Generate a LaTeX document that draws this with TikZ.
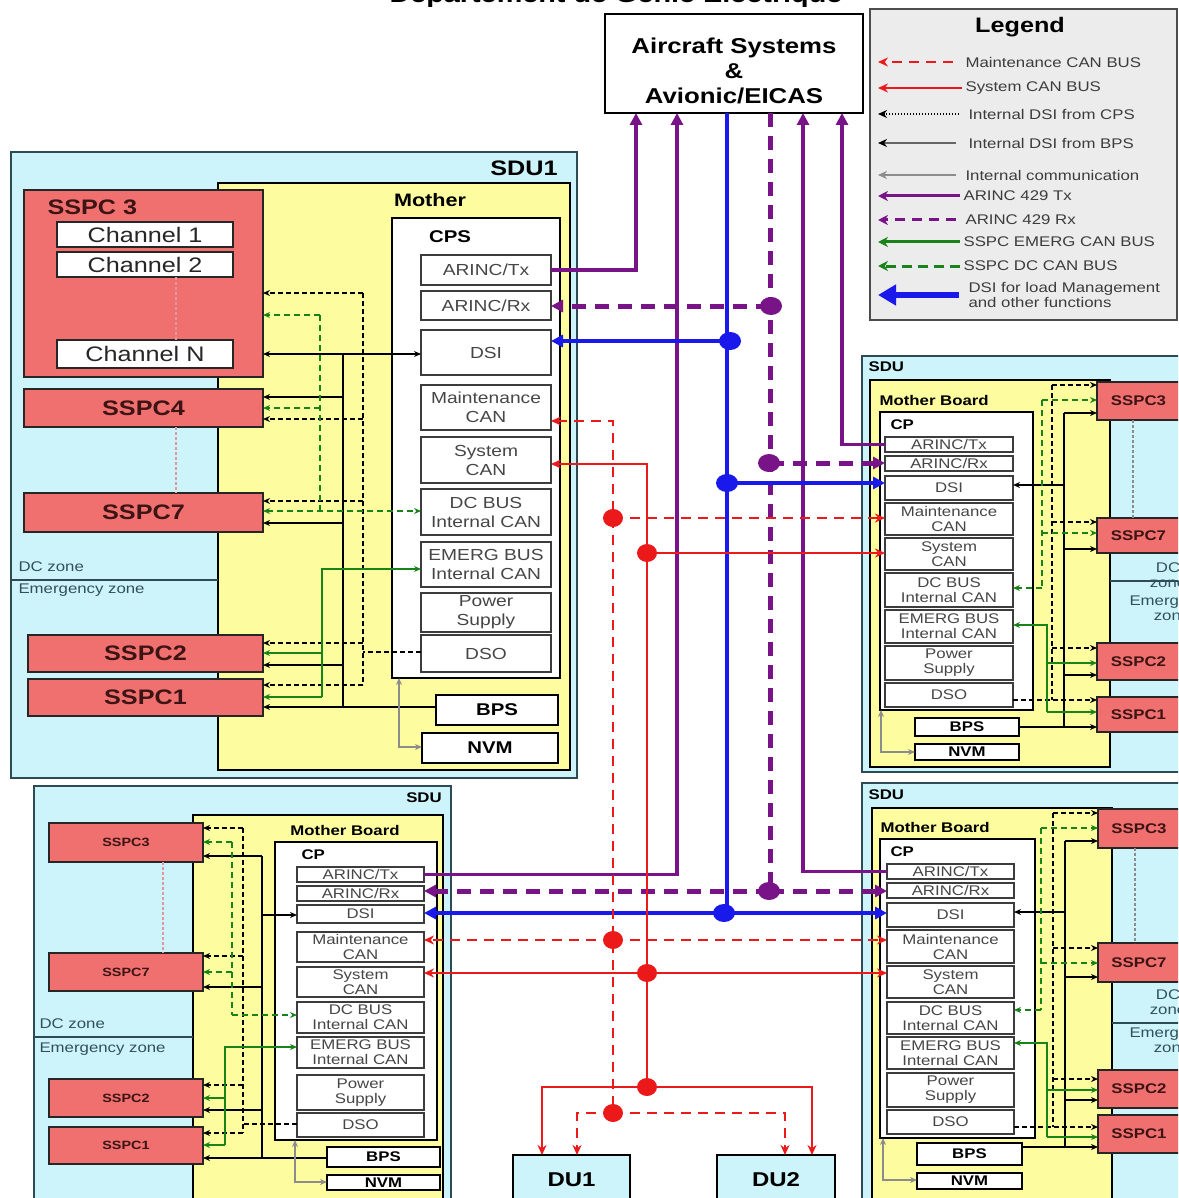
\documentclass[tikz,border=0pt]{standalone}
\usepackage{fontspec}
\setmainfont[FakeStretch=1.2]{Liberation Sans}
\usetikzlibrary{arrows.meta}
\definecolor{sducyan}{RGB}{204,244,250}
\definecolor{sdub}{RGB}{45,75,85}
\definecolor{mby}{RGB}{253,253,160}
\definecolor{sspcr}{RGB}{240,112,112}
\definecolor{sspct}{RGB}{60,20,20}
\definecolor{subt}{RGB}{70,70,70}
\definecolor{subb}{RGB}{60,60,60}
\definecolor{prp}{RGB}{120,20,135}
\definecolor{blu}{RGB}{25,25,235}
\definecolor{rd}{RGB}{235,25,25}
\definecolor{grn}{RGB}{25,130,25}
\definecolor{gry}{RGB}{140,140,140}
\definecolor{leggray}{RGB}{236,236,236}
\definecolor{legtext}{RGB}{60,60,60}
\definecolor{zonet}{RGB}{50,80,90}
\definecolor{pinkd}{RGB}{225,150,160}
\definecolor{ducyan}{RGB}{204,244,250}
\newcommand\fsz[2]{\fontsize{#1}{#2}\selectfont}
\newcommand\bx[7]{\node[#1,inner sep=0pt,outer sep=0pt,minimum width={#5-#3},minimum height={#6-#4}] (#2) at ({(#3+#5)/2},{(#4+#6)/2}) {#7};}
\tikzset{
 sa/.tip={Stealth[length=7pt,width=6pt]},
 ra/.tip={Stealth[length=10pt,width=9pt]},
 ta/.tip={Triangle[length=12pt,width=12pt]},
 sdu/.style={draw=sdub,fill=sducyan,line width=1.5pt},
 mb/.style={draw=black,fill=mby,line width=2pt},
 cpb/.style={draw=black,fill=white,line width=1.5pt},
 subL/.style={draw=subb,fill=white,line width=1.5pt,text=subt,align=center,font=\fsz{16}{19}},
 subS/.style={draw=subb,fill=white,line width=1.3pt,text=subt,align=center,font=\fsz{14}{15}},
 bpL/.style={draw=black,fill=white,line width=2pt,font=\bfseries\fsz{17}{19}},
 bpS/.style={draw=black,fill=white,line width=1.8pt,font=\bfseries\fsz{14}{15}},
 sspcL/.style={draw=black!85,fill=sspcr,line width=2pt,text=sspct,font=\bfseries\fsz{21}{24}},
 sspcS/.style={draw=black!85,fill=sspcr,line width=1.8pt,text=sspct,font=\bfseries\fsz{14}{16}},
 sspcB/.style={draw=black!85,fill=sspcr,line width=1.8pt,text=sspct,font=\bfseries\fsz{12}{14}},
 chan/.style={draw=black!85,fill=white,line width=2pt,font=\fsz{21}{24},text=black!85},
 lbl/.style={font=\bfseries\fsz{14}{16}},
 zone/.style={text=zonet,font=\fsz{14}{15},align=center},
 air/.style={draw=black,fill=white,line width=2.5pt},
 airt/.style={align=center,font=\bfseries\fsz{21.5}{25}},
 du/.style={draw=black,fill=ducyan,line width=2pt,font=\bfseries\fsz{20}{22}},
 legt/.style={text=legtext,font=\fsz{14}{15},anchor=west,align=left},
 tx/.style={prp,line width=3.5pt},
 rx/.style={prp,line width=5pt,dash pattern=on 14pt off 9pt},
 dsi/.style={blu,line width=4.5pt},
 mcan/.style={rd,line width=2.8pt,dash pattern=on 10pt off 7pt},
 scan/.style={rd,line width=2.8pt},
 bk/.style={black,line width=1.5pt},
 bkd/.style={black,line width=1.6pt,dash pattern=on 5pt off 3pt},
 gd/.style={grn,line width=1.8pt,dash pattern=on 6pt off 4pt},
 gs/.style={grn,line width=1.8pt},
 gr/.style={gry,line width=1.5pt},
 pd/.style={pinkd,line width=1.5pt,dash pattern=on 3pt off 2pt},
}
\begin{document}
\begin{tikzpicture}[x=1pt,y=-1pt]
\useasboundingbox (0,0) rectangle (1178,1198);
\clip (0,0) rectangle (1178,1198);
\fill[white] (0,0) rectangle (1178,1198);

% title (cut off at top)
\node[font=\bfseries\fsz{24}{26},anchor=base] (title) at (616,3) {Département de Génie Électrique};

% aircraft systems
\bx{air}{air}{605}{14}{863}{113}{}
\node[airt] (airtxt) at (734,71) {Aircraft Systems\\\&\\Avionic/EICAS};

% legend
\bx{draw=black!70,fill=leggray,line width=1.5pt}{leg}{870}{9}{1177}{320}{}
\node[font=\bfseries\fsz{21}{24}] (legl) at (1020,27) {Legend};
\node[legt] (lg1) at (962,62) {Maintenance CAN BUS};
\node[legt] (lg2) at (962,88) {System CAN BUS};
\node[legt] (lg3) at (965,114) {Internal DSI from CPS};
\node[legt] (lg4) at (965,143) {Internal DSI from BPS};
\node[legt] (lg5) at (962,175) {Internal communication};
\node[legt] (lg6) at (960,196) {ARINC 429 Tx};
\node[legt] (lg7) at (962,220) {ARINC 429 Rx};
\node[legt] (lg8) at (960,242) {SSPC EMERG CAN BUS};
\node[legt] (lg9) at (960,266) {SSPC DC CAN BUS};
\node[legt] (lg10) at (965,295) {DSI for load Management\\and other functions};
\draw[mcan,line width=2.5pt,-ra] ([xshift=-9pt]lg1.west) -- (878,62);
\draw[scan,line width=2.5pt,-ra] (lg2.west) -- (878,88);
\draw[black,line width=1.3pt,dash pattern=on 1.5pt off 1.5pt,-{Stealth[length=9pt,width=8pt]}] ([xshift=-6pt]lg3.west) -- (878,114);
\draw[black!60,line width=1.5pt,-{Stealth[length=9pt,width=8pt,black]}] ([xshift=-9pt]lg4.west) -- (878,143);
\draw[gry,line width=2pt,-{Stealth[length=9pt,width=8pt]}] ([xshift=-6pt]lg5.west) -- (878,175);
\draw[tx,line width=3pt,-{Stealth[length=10pt,width=10pt]}] (lg6.west) -- (878,196);
\draw[prp,line width=3pt,dash pattern=on 10pt off 7pt,-{Stealth[length=10pt,width=10pt]}] ([xshift=-6pt]lg7.west) -- (878,220);
\draw[gs,line width=3pt,-{Stealth[length=10pt,width=10pt]}] (lg8.west) -- (878,242);
\draw[grn,line width=3pt,dash pattern=on 10pt off 6pt,-{Stealth[length=10pt,width=10pt]}] (lg9.west) -- (878,266);
\draw[dsi,line width=6pt,-{Triangle[length=18pt,width=20pt]}] ([xshift=-6pt]lg10.west) -- (878,295);

% ================= SDU1 =================
\bx{sdu}{sdu1}{11}{152}{577}{778}{}
\node[font=\bfseries\fsz{21}{24}] (sdu1l) at (524,168) {SDU1};
\bx{mb}{mb1}{218}{183}{570}{770}{}
\node[font=\bfseries\fsz{18}{20}] (mb1l) at (430,200) {Mother};
\bx{cpb}{cps1}{392}{218}{560}{678}{}
\node[font=\bfseries\fsz{17}{19}] (cps1l) at (450,237) {CPS};
\bx{subL}{s1tx}{421}{255}{551}{285}{ARINC/Tx}
\bx{subL}{s1rx}{421}{291}{551}{320}{ARINC/Rx}
\bx{subL}{s1dsi}{421}{330}{551}{375}{DSI}
\bx{subL}{s1mc}{421}{385}{551}{430}{Maintenance\\CAN}
\bx{subL}{s1sc}{421}{437}{551}{483}{System\\CAN}
\bx{subL}{s1dc}{421}{489}{551}{535}{DC BUS\\Internal CAN}
\bx{subL}{s1em}{421}{542}{551}{587}{EMERG BUS\\Internal CAN}
\bx{subL}{s1ps}{421}{593}{551}{632}{Power\\Supply}
\bx{subL}{s1dso}{421}{635}{551}{672}{DSO}
\bx{bpL}{s1bps}{436}{695}{558}{725}{BPS}
\bx{bpL}{s1nvm}{422}{733}{558}{763}{NVM}
\bx{sspcL}{s1s3}{24}{190}{263}{377}{}
\node[font=\bfseries\fsz{21}{24},text=sspct,anchor=west] (s1s3l) at (44,207) {SSPC 3};
\bx{chan}{s1ch1}{57}{222}{233}{247}{Channel 1}
\bx{chan}{s1ch2}{57}{252}{233}{277}{Channel 2}
\bx{chan}{s1chN}{57}{340}{233}{368}{Channel N}
\bx{sspcL}{s1s4}{24}{389}{263}{427}{SSPC4}
\bx{sspcL}{s1s7}{24}{493}{263}{532}{SSPC7}
\bx{sspcL}{s1s2}{28}{635}{263}{672}{SSPC2}
\bx{sspcL}{s1s1}{28}{679}{263}{716}{SSPC1}
\draw[pd] (s1ch2.south -| 176,0) -- (s1chN.north -| 176,0);
\draw[pd] (s1s4.south -| 176,0) -- (s1s7.north -| 176,0);
\draw[sdub,line width=1.5pt] (sdu1.west |- 0,580) -- (mb1.west |- 0,580);
\node[zone,anchor=west] (s1dcz) at (15,567) {DC zone};
\node[zone,anchor=west] (s1emz) at (15,590) {Emergency zone};
% internal
\draw[bk,sa-sa] (s1s3.east |- s1chN) -- (s1dsi.west |- s1chN);
\draw[bk] (343,354) -- (343,707);
\draw[bk,-sa] (343,397) -- (s1s4.east |- 0,397);
\draw[bk,-sa] (343,523) -- (s1s7.east |- 0,523);
\draw[bk,-sa] (343,665) -- (s1s2.east |- 0,665);
\draw[bk,-sa] (s1bps.west |- 0,707) -- (s1s1.east |- 0,707);
\draw[bkd] (363,293) -- (363,685);
\draw[bkd,-sa] (363,293) -- (s1s3.east |- 0,293);
\draw[bkd,-sa] (363,419) -- (s1s4.east |- 0,419);
\draw[bkd,-sa] (363,501) -- (s1s7.east |- 0,501);
\draw[bkd,-sa] (363,643) -- (s1s2.east |- 0,643);
\draw[bkd,-sa] (363,685) -- (s1s1.east |- 0,685);
\draw[bkd] (s1dso.west |- 0,652) -- (363,652);
\draw[gd] (320,315) -- (320,511);
\draw[gd,-sa] (320,315) -- (s1s3.east |- 0,315);
\draw[gd,-sa] (320,408) -- (s1s4.east |- 0,408);
\draw[gd,sa-sa] (s1s7.east |- 0,511) -- (s1dc.west |- 0,511);
\draw[gs,sa-] (s1em.west |- 0,569) -| (322,697);
\draw[gs,-sa] (322,653) -- (s1s2.east |- 0,653);
\draw[gs,-sa] (322,697) -- (s1s1.east |- 0,697);
\draw[gr,sa-sa] (cps1.south -| 399,0) |- (s1nvm.west |- 0,747);

% ================= top-right SDU =================
\bx{sdu}{trsdu}{862}{356}{1190}{772}{}
\node[lbl,anchor=west] (trsdul) at (865,367) {SDU};
\bx{mb}{trmb}{870}{380}{1110}{767}{}
\node[lbl,anchor=west] (trmbl) at (876,400) {Mother Board};
\bx{cpb}{trcp}{880}{412}{1033}{710}{}
\node[lbl,anchor=west] (trcpl) at (887,425) {CP};
\bx{subS}{trtx}{885}{437}{1013}{452}{ARINC/Tx}
\bx{subS}{trrx}{885}{456}{1013}{471}{ARINC/Rx}
\bx{subS}{trdsi}{885}{476}{1013}{500}{DSI}
\bx{subS}{trmc}{885}{503}{1013}{535}{Maintenance\\CAN}
\bx{subS}{trsc}{885}{538}{1013}{570}{System\\CAN}
\bx{subS}{trdc}{885}{573}{1013}{607}{DC BUS\\Internal CAN}
\bx{subS}{trem}{885}{610}{1013}{643}{EMERG BUS\\Internal CAN}
\bx{subS}{trps}{885}{646}{1013}{680}{Power\\Supply}
\bx{subS}{trdso}{885}{683}{1013}{707}{DSO}
\bx{bpS}{trbps}{915}{718}{1019}{736}{BPS}
\bx{bpS}{trnvm}{915}{744}{1019}{760}{NVM}
\bx{sspcS}{trs3}{1097}{382}{1180}{420}{SSPC3}
\bx{sspcS}{trs7}{1097}{518}{1180}{553}{SSPC7}
\bx{sspcS}{trs2}{1097}{643}{1180}{680}{SSPC2}
\bx{sspcS}{trs1}{1097}{697}{1180}{732}{SSPC1}
\draw[pd,gry] (trs3.south -| 1133,0) -- (trs7.north -| 1133,0);
\draw[sdub,line width=1.5pt] (trmb.east |- 0,581) -- (1190,581);
\node[zone] (trdcz) at (1168,575) {DC\\zone};
\node[zone] (tremz) at (1172,608) {Emergency\\zone};
\draw[bk] (1064,413) -- (1064,727);
\draw[bk,-sa] (1064,413) -- (trs3.west |- 0,413);
\draw[bk,-sa] (1064,549) -- (trs7.west |- 0,549);
\draw[bk,-sa] (1064,675) -- (trs2.west |- 0,675);
\draw[bk,-sa] (trbps.east |- 0,727) -- (trs1.west |- 0,727);
\draw[bk,-sa] (1064,485) -- (trdsi.east |- 0,485);
\draw[bkd] (1052,385) -- (1052,700);
\draw[bkd,-sa] (1052,385) -- (trs3.west |- 0,385);
\draw[bkd,-sa] (1052,522) -- (trs7.west |- 0,522);
\draw[bkd,-sa] (1052,648) -- (trs2.west |- 0,648);
\draw[bkd,-sa] (trdso.east |- 0,700) -- (trs1.west |- 0,700);
\draw[gd] (1042,400) -- (1042,588);
\draw[gd,-sa] (1042,400) -- (trs3.west |- 0,400);
\draw[gd,-sa] (1042,533) -- (trs7.west |- 0,533);
\draw[gd,-sa] (1042,588) -- (trdc.east |- 0,588);
\draw[gs,sa-] (trem.east |- 0,625) -| (1047,712);
\draw[gs,-sa] (1047,663) -- (trs2.west |- 0,663);
\draw[gs,-sa] (1047,712) -- (trs1.west |- 0,712);
\draw[gr,sa-sa] (trcp.south -| 881,0) |- (trnvm.west |- 0,752);

% ================= bottom-right SDU =================
\bx{sdu}{brsdu}{862}{783}{1190}{1210}{}
\node[lbl,anchor=west] (brsdul) at (865,795) {SDU};
\bx{mb}{brmb}{872}{808}{1112}{1205}{}
\node[lbl,anchor=west] (brmbl) at (877,827) {Mother Board};
\bx{cpb}{brcp}{880}{839}{1035}{1138}{}
\node[lbl,anchor=west] (brcpl) at (887,852) {CP};
\bx{subS}{brtx}{887}{864}{1014}{879}{ARINC/Tx}
\bx{subS}{brrx}{887}{883}{1014}{898}{ARINC/Rx}
\bx{subS}{brdsi}{887}{903}{1014}{927}{DSI}
\bx{subS}{brmc}{887}{930}{1014}{963}{Maintenance\\CAN}
\bx{subS}{brsc}{887}{966}{1014}{998}{System\\CAN}
\bx{subS}{brdc}{887}{1002}{1014}{1034}{DC BUS\\Internal CAN}
\bx{subS}{brem}{887}{1037}{1014}{1069}{EMERG BUS\\Internal CAN}
\bx{subS}{brps}{887}{1073}{1014}{1107}{Power\\Supply}
\bx{subS}{brdso}{887}{1110}{1014}{1134}{DSO}
\bx{bpS}{brbps}{917}{1143}{1022}{1165}{BPS}
\bx{bpS}{brnvm}{917}{1173}{1022}{1189}{NVM}
\bx{sspcS}{brs3}{1098}{809}{1180}{848}{SSPC3}
\bx{sspcS}{brs7}{1098}{943}{1180}{982}{SSPC7}
\bx{sspcS}{brs2}{1098}{1070}{1180}{1108}{SSPC2}
\bx{sspcS}{brs1}{1098}{1115}{1180}{1153}{SSPC1}
\draw[pd,gry] (brs3.south -| 1135,0) -- (brs7.north -| 1135,0);
\draw[sdub,line width=1.5pt] (brmb.east |- 0,1023) -- (1190,1023);
\node[zone] (brdcz) at (1168,1002) {DC\\zone};
\node[zone] (bremz) at (1172,1040) {Emergency\\zone};
\draw[bk] (1065,841) -- (1065,1147);
\draw[bk,-sa] (1065,841) -- (brs3.west |- 0,841);
\draw[bk,-sa] (1065,977) -- (brs7.west |- 0,977);
\draw[bk,-sa] (1065,1100) -- (brs2.west |- 0,1100);
\draw[bk,-sa] (brbps.east |- 0,1147) -- (brs1.west |- 0,1147);
\draw[bk,-sa] (1065,912) -- (brdsi.east |- 0,912);
\draw[bkd] (1053,813) -- (1053,1127);
\draw[bkd,-sa] (1053,813) -- (brs3.west |- 0,813);
\draw[bkd,-sa] (1053,948) -- (brs7.west |- 0,948);
\draw[bkd,-sa] (1053,1079) -- (brs2.west |- 0,1079);
\draw[bkd,-sa] (brdso.east |- 0,1127) -- (brs1.west |- 0,1127);
\draw[gd] (1041,828) -- (1041,1010);
\draw[gd,-sa] (1041,828) -- (brs3.west |- 0,828);
\draw[gd,-sa] (1041,963) -- (brs7.west |- 0,963);
\draw[gd,-sa] (1041,1010) -- (brdc.east |- 0,1010);
\draw[gs,sa-] (brem.east |- 0,1043) -| (1047,1137);
\draw[gs,-sa] (1047,1090) -- (brs2.west |- 0,1090);
\draw[gs,-sa] (1047,1137) -- (brs1.west |- 0,1137);
\draw[gr,sa-sa] (brcp.south -| 883,0) |- (brnvm.west |- 0,1180);

% ================= bottom-left SDU =================
\bx{sdu}{blsdu}{34}{786}{451}{1210}{}
\node[lbl] (blsdul) at (424,798) {SDU};
\bx{mb}{blmb}{193}{815}{443}{1205}{}
\node[lbl] (blmbl) at (345,830) {Mother Board};
\bx{cpb}{blcp}{275}{842}{437}{1140}{}
\node[lbl,anchor=west] (blcpl) at (298,855) {CP};
\bx{subS}{bltx}{297}{867}{424}{882}{ARINC/Tx}
\bx{subS}{blrx}{297}{886}{424}{901}{ARINC/Rx}
\bx{subS}{bldsi}{297}{905}{424}{923}{DSI}
\bx{subS}{blmc}{297}{932}{424}{962}{Maintenance\\CAN}
\bx{subS}{blsc}{297}{967}{424}{997}{System\\CAN}
\bx{subS}{bldc}{297}{1002}{424}{1033}{DC BUS\\Internal CAN}
\bx{subS}{blem}{297}{1037}{424}{1068}{EMERG BUS\\Internal CAN}
\bx{subS}{blps}{297}{1075}{424}{1110}{Power\\Supply}
\bx{subS}{bldso}{297}{1113}{424}{1137}{DSO}
\bx{bpS}{blbps}{327}{1147}{440}{1167}{BPS}
\bx{bpS}{blnvm}{327}{1175}{440}{1190}{NVM}
\bx{sspcB}{bls3}{49}{823}{203}{862}{SSPC3}
\bx{sspcB}{bls7}{49}{953}{203}{991}{SSPC7}
\bx{sspcB}{bls2}{49}{1079}{203}{1117}{SSPC2}
\bx{sspcB}{bls1}{49}{1127}{203}{1164}{SSPC1}
\draw[pd] (bls3.south -| 163,0) -- (bls7.north -| 163,0);
\draw[sdub,line width=1.5pt] (blsdu.west |- 0,1037) -- (blmb.west |- 0,1037);
\node[zone,anchor=west] (bldcz) at (36,1024) {DC zone};
\node[zone,anchor=west] (blemz) at (36,1049) {Emergency zone};
\draw[bk] (262,856) -- (262,1158);
\draw[bk,-sa] (262,856) -- (bls3.east |- 0,856);
\draw[bk,-sa] (262,987) -- (bls7.east |- 0,987);
\draw[bk,-sa] (262,1110) -- (bls2.east |- 0,1110);
\draw[bk,-sa] (blbps.west |- 0,1158) -- (bls1.east |- 0,1158);
\draw[bk,-sa] (262,915) -- (bldsi.west |- 0,915);
\draw[bkd] (243,828) -- (243,1133);
\draw[bkd,-sa] (243,828) -- (bls3.east |- 0,828);
\draw[bkd,-sa] (243,956) -- (bls7.east |- 0,956);
\draw[bkd,-sa] (243,1085) -- (bls2.east |- 0,1085);
\draw[bkd,-sa] (243,1133) -- (bls1.east |- 0,1133);
\draw[bkd] (bldso.west |- 0,1124) -- (243,1124);
\draw[gd] (232,842) -- (232,1015);
\draw[gd,-sa] (232,842) -- (bls3.east |- 0,842);
\draw[gd,-sa] (232,972) -- (bls7.east |- 0,972);
\draw[gd,-sa] (232,1015) -- (bldc.west |- 0,1015);
\draw[gs,sa-] (blem.west |- 0,1047) -| (225,1145);
\draw[gs,-sa] (225,1098) -- (bls2.east |- 0,1098);
\draw[gs,-sa] (225,1145) -- (bls1.east |- 0,1145);
\draw[gr,sa-sa] (blcp.south -| 295,0) |- (blnvm.west |- 0,1182);

% ================= DU =================
\bx{du}{du1}{513}{1155}{630}{1205}{DU1}
\bx{du}{du2}{717}{1155}{835}{1205}{DU2}

% ================= cross connections =================
% ARINC Tx
\draw[tx,-ta] (s1tx.east) -| (air.south -| 636,0);
\draw[tx,-ta] (bltx.east) -| (air.south -| 677,0);
\draw[tx,-ta] (brtx.west) -| (air.south -| 803,0);
\draw[tx,-ta] (trtx.west) -| (air.south -| 842,0);
% ARINC Rx
\draw[rx] (air.south -| 770,0) -- (770,891);
\draw[rx,-ta] (770,306) -- (s1rx.east |- 0,306);
\draw[rx,-ta] (770,463) -- (trrx.west |- 0,463);
\draw[rx,-ta] (770,891) -- (blrx.east |- 0,891);
\draw[rx,-ta] (770,891) -- (brrx.west |- 0,891);
% DSI
\draw[dsi] (air.south -| 727,0) -- (727,913);
\draw[dsi,-ta] (727,341) -- (s1dsi.east |- 0,341);
\draw[dsi,-ta] (727,483) -- (trdsi.west |- 0,483);
\draw[dsi,-ta] (727,913) -- (bldsi.east |- 0,913);
\draw[dsi,-ta] (727,913) -- (brdsi.west |- 0,913);
% Maintenance CAN
\draw[mcan,ra-] (s1mc.east |- 0,421) -| (613,1113);
\draw[mcan,-ra] (613,518) -- (trmc.west |- 0,518);
\draw[mcan,-ra] (613,940) -- (blmc.east |- 0,940);
\draw[mcan,-ra] (613,940) -- (brmc.west |- 0,940);
\draw[mcan,-ra] (613,1113) -| (du1.north -| 577,0);
\draw[mcan,-ra] (613,1113) -| (du2.north -| 785,0);
% System CAN
\draw[scan,ra-] (s1sc.east |- 0,464) -| (647,1087);
\draw[scan,-ra] (647,553) -- (trsc.west |- 0,553);
\draw[scan,-ra] (647,973) -- (blsc.east |- 0,973);
\draw[scan,-ra] (647,973) -- (brsc.west |- 0,973);
\draw[scan,-ra] (647,1087) -| (du1.north -| 542,0);
\draw[scan,-ra] (647,1087) -| (du2.north -| 812,0);
% junction dots
\fill[prp] (771,306) ellipse [x radius=11pt,y radius=9pt];
\fill[prp] (769,463) ellipse [x radius=11pt,y radius=9pt];
\fill[prp] (769,891) ellipse [x radius=11pt,y radius=9pt];
\fill[blu] (730,341) ellipse [x radius=11pt,y radius=9pt];
\fill[blu] (727,483) ellipse [x radius=11pt,y radius=9pt];
\fill[blu] (724,913) ellipse [x radius=11pt,y radius=9pt];
\fill[rd] (613,518) ellipse [x radius=10pt,y radius=9pt];
\fill[rd] (613,940) ellipse [x radius=10pt,y radius=9pt];
\fill[rd] (613,1113) ellipse [x radius=10pt,y radius=9pt];
\fill[rd] (647,553) ellipse [x radius=10pt,y radius=9pt];
\fill[rd] (647,973) ellipse [x radius=10pt,y radius=9pt];
\fill[rd] (647,1087) ellipse [x radius=10pt,y radius=9pt];
\end{tikzpicture}
\end{document}
